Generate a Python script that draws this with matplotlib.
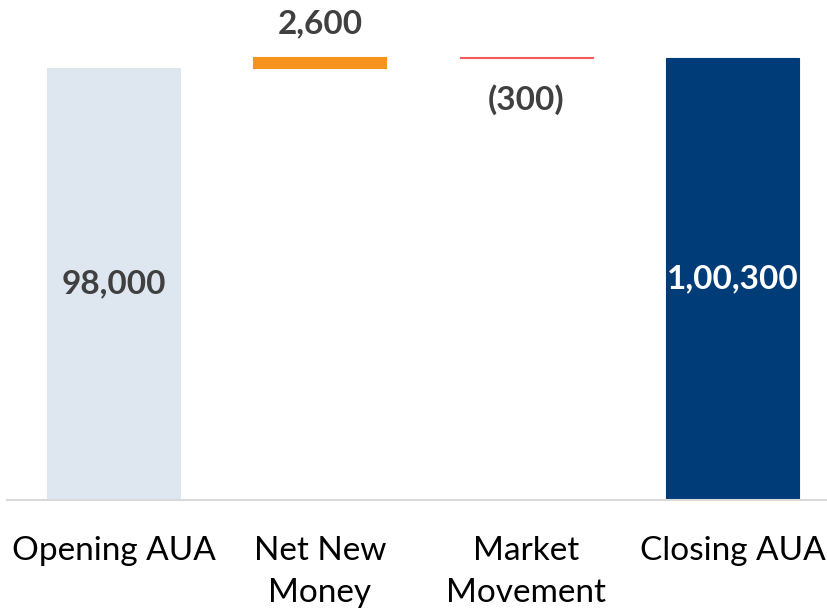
import matplotlib.pyplot as plt

categories = ["Opening AUA", "Net New\nMoney", "Market\nMovement", "Closing AUA"]
values = [98000, 2600, -300, 100300]
kinds = ["total", "delta", "delta", "total"]
value_labels = ["98,000", "2,600", "(300)", "1,00,300"]

colors = ["#DEE6EF", "#F7941D", "#F05A5A", "#003C78"]
label_colors = ["#404040", "#404040", "#404040", "#FFFFFF"]

plt.rcParams['font.family'] = ['Lato', 'DejaVu Sans']

# waterfall bottoms
bottoms = []
running = 0
for v, k in zip(values, kinds):
    if k == "total":
        bottoms.append(0)
        running = v
    else:
        bottoms.append(running)
        running += v

fig = plt.figure(figsize=(8.28, 6.14), dpi=100)
ax = fig.add_axes([7 / 828, 114 / 614, 821 / 828, 500 / 614])

x = list(range(len(categories)))
ax.bar(x, values, bottom=bottoms, width=0.644, color=colors,
       edgecolor=colors, linewidth=0.8)

ax.set_xlim(-0.516, 3.462)
ax.set_ylim(0, 98000 * 500 / 432)

for i, (v, b, k) in enumerate(zip(values, bottoms, kinds)):
    if k == "total":
        ax.text(i, b + v / 2, value_labels[i], ha='center', va='center',
                fontsize=24, fontweight='bold', color=label_colors[i])
    elif v >= 0:
        ax.annotate(value_labels[i], (i, b + v), xytext=(0, 13), textcoords='offset points',
                    ha='center', va='bottom', fontsize=24, fontweight='bold', color=label_colors[i])
    else:
        ax.annotate(value_labels[i], (i, b), xytext=(0, -20), textcoords='offset points',
                    ha='center', va='top', fontsize=24, fontweight='bold', color=label_colors[i])

ax.set_xticks(x)
ax.set_xticklabels(categories, fontsize=24, color='black', linespacing=1.5)
ax.tick_params(axis='x', length=0, pad=26)
ax.set_yticks([])

for side in ['top', 'right', 'left']:
    ax.spines[side].set_visible(False)
ax.spines['bottom'].set_color('#D9D9D9')
ax.spines['bottom'].set_linewidth(1.5)

fig.savefig("out.png", dpi=100)
